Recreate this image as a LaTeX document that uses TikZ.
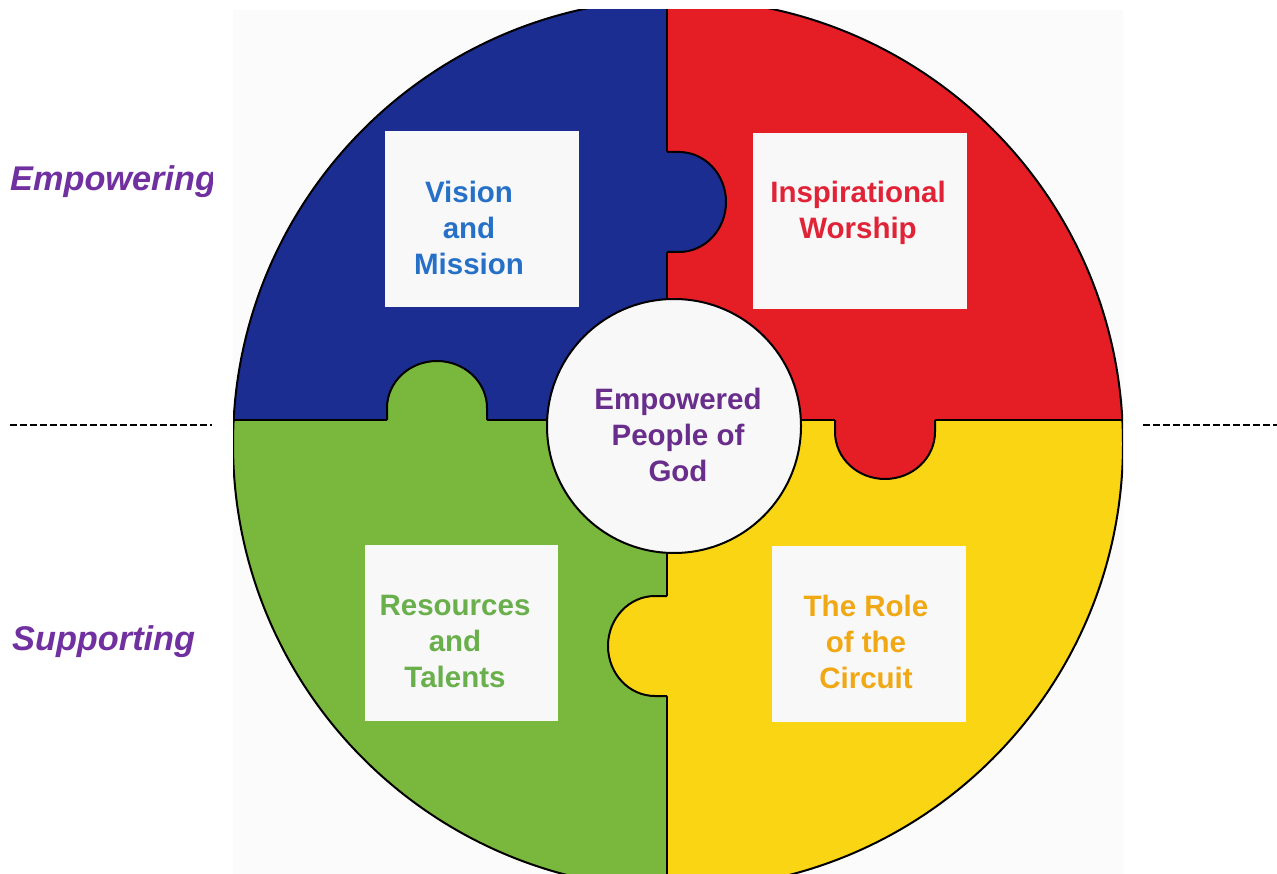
\documentclass[tikz,border=0pt]{standalone}
\usepackage{fontspec}
\setmainfont{Liberation Sans}
\usetikzlibrary{shapes.geometric}

\definecolor{sheet}{RGB}{251,251,251}
\definecolor{cardwhite}{RGB}{248,248,248}
\definecolor{pieceblue}{RGB}{28,45,145}
\definecolor{piecered}{RGB}{229,30,37}
\definecolor{piecegreen}{RGB}{121,184,60}
\definecolor{pieceyellow}{RGB}{249,213,20}
\definecolor{txtblue}{RGB}{38,112,200}
\definecolor{txtred}{RGB}{225,35,55}
\definecolor{txtgreen}{RGB}{105,175,75}
\definecolor{txtgold}{RGB}{240,168,20}
\definecolor{txtpurple}{RGB}{105,45,140}
\definecolor{sidepurple}{RGB}{112,48,160}

\begin{document}
\begin{tikzpicture}[x=1pt,y=-1pt,
  edge/.style={draw=black,line width=2pt,line join=round},
  card/.style={rectangle,fill=cardwhite,draw=none,inner sep=0pt,minimum height=176pt},
  caption/.style={font=\bfseries\fontsize{29.5}{36}\selectfont,align=center,inner sep=0pt},
  side/.style={font=\bfseries\itshape\fontsize{34.3}{40}\selectfont,text=sidepurple,inner sep=0pt,anchor=base west},
  separator/.style={black,line width=2.2pt,dash pattern=on 7pt off 3pt}]

\useasboundingbox (0,0) rectangle (1277,874);
\fill[white] (0,0) rectangle (1277,874);

% scanned sheet behind the wheel
\fill[sheet] (233,10) rectangle (1123,874);

\begin{scope}
  \clip (233,10) rectangle (1123,874);
  \begin{scope}
    \clip (678,444) circle (445);
    % four quadrants
    \fill[pieceblue]   (230,0)   rectangle (667,420);
    \fill[piecered]    (667,0)   rectangle (1130,420);
    \fill[piecegreen]  (230,420) rectangle (667,880);
    \fill[pieceyellow] (667,420) rectangle (1130,880);
    % dividing lines
    \draw[edge] (230,420) -- (1130,420);
    \draw[edge] (667,0) -- (667,880);
    % puzzle tabs: fills
    \fill[pieceblue] (662,152) -- (679,152)
      arc[start angle=-90,end angle=90,x radius=47,y radius=50] -- (662,252) -- cycle;
    \fill[piecegreen] (387,425) -- (387,408)
      arc[start angle=180,end angle=360,x radius=50,y radius=47] -- (487,425) -- cycle;
    \fill[piecered] (835,415) -- (835,432)
      arc[start angle=180,end angle=0,x radius=50,y radius=47] -- (935,415) -- cycle;
    \fill[pieceyellow] (672,596) -- (655,596)
      arc[start angle=270,end angle=90,x radius=47,y radius=50] -- (672,696) -- cycle;
    % puzzle tabs: outlines
    \draw[edge] (667,152) -- (679,152)
      arc[start angle=-90,end angle=90,x radius=47,y radius=50] -- (667,252);
    \draw[edge] (387,420) -- (387,408)
      arc[start angle=180,end angle=360,x radius=50,y radius=47] -- (487,420);
    \draw[edge] (835,420) -- (835,432)
      arc[start angle=180,end angle=0,x radius=50,y radius=47] -- (935,420);
    \draw[edge] (667,596) -- (655,596)
      arc[start angle=270,end angle=90,x radius=47,y radius=50] -- (667,696);
  \end{scope}
  \draw[edge] (678,444) circle (445);
\end{scope}

% centre disc
\node[circle,fill=cardwhite,draw=black,line width=2pt,minimum size=254pt,inner sep=0pt] (hub) at (674,426) {};
\node[caption,text=txtpurple] (hubtext) at (678,435) {Empowered\\People of\\God};

% cards
\node[card,minimum width=194pt] (vision) at (482,219) {};
\node[card,minimum width=214pt] (worship) at (860,221) {};
\node[card,minimum width=193pt] (resources) at (461.5,633) {};
\node[card,minimum width=194pt] (circuit) at (869,634) {};

\node[caption,text=txtblue] (visiontext) at (469,228) {Vision\\and\\Mission};
\node[caption,text=txtred] (worshiptext) at (858,213) {Inspirational\\Worship};
\node[caption,text=txtgreen] (resourcestext) at (455,641) {Resources\\and\\Talents};
\node[caption,text=txtgold] (circuittext) at (866,642) {The Role\\of the\\Circuit};

% side labels
\begin{scope}
  \clip (0,140) rectangle (212.5,215);
  \node[side] (empowering) at (10,191) {Empowering};
\end{scope}
\node[side] (supporting) at (12,650) {Supporting};

% separators
\coordinate (sepLa) at (10,425);
\coordinate (sepLb) at (212,425);
\coordinate (sepRa) at (1143,425);
\coordinate (sepRb) at (1277,425);
\draw[separator] (sepLa) -- (sepLb);
\draw[separator] (sepRa) -- (sepRb);
\end{tikzpicture}
\end{document}
